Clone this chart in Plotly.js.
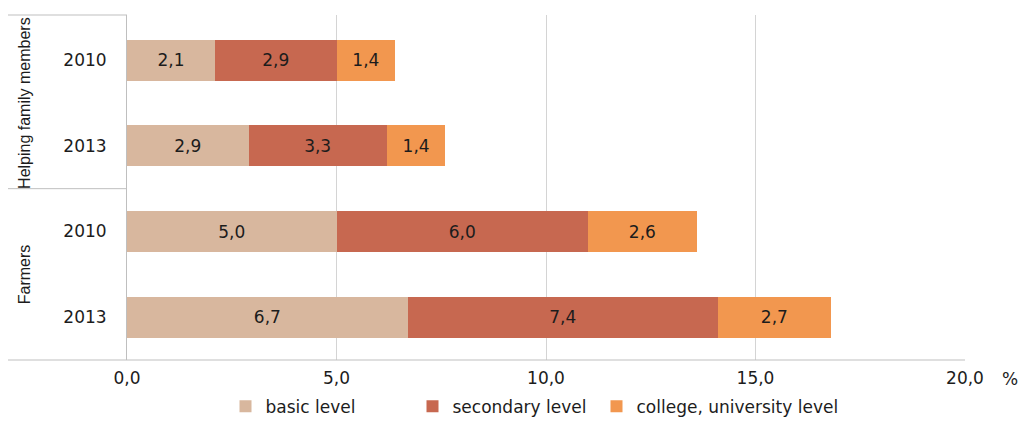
<!DOCTYPE html>
<html>
<head>
<meta charset="utf-8">
<script src="https://cdn.plot.ly/plotly-3.0.1.min.js"></script>
<style>
  html, body { margin: 0; padding: 0; background: #ffffff; }
  #chart { width: 1022px; height: 421px; }
</style>
</head>
<body>
<div id="chart"></div>
<script>
// Category ids (group + year), top to bottom
const categories = [
  'Helping family members 2010',
  'Helping family members 2013',
  'Farmers 2010',
  'Farmers 2013'
];
const yearLabels = ['2010', '2013', '2010', '2013'];
const groupLabels = ['Helping family members', 'Farmers'];

// Share of each education level, %
const basicLevel = [2.1, 2.9, 5.0, 6.7];
const secondaryLevel = [2.9, 3.3, 6.0, 7.4];
const collegeLevel = [1.4, 1.4, 2.6, 2.7];

const seriesNames = ['basic level', 'secondary level', 'college, university level'];
const seriesColors = ['#d8b79e', '#c76850', '#f2974f'];
// legend entry widths in px
const legendWidths = [142, 139, 225];

const xTicks = [0, 5, 10, 15, 20];

const wideFont = 'DejaVu Sans, Liberation Sans, Arial, sans-serif';
const textColor = '#1c1c1c';
const lineColor = '#bfbfbf';

function barTrace(values, i) {
  return {
    type: 'bar',
    orientation: 'h',
    name: seriesNames[i],
    legendwidth: legendWidths[i],
    x: values,
    y: categories,
    marker: { color: seriesColors[i], line: { width: 0 } },
    texttemplate: '%{x:.1f}',
    textposition: 'inside',
    insidetextanchor: 'middle',
    constraintext: 'none',
    textfont: { family: wideFont, size: 17, color: textColor },
    hoverinfo: 'name+x'
  };
}

const data = [
  barTrace(basicLevel, 0),
  barTrace(secondaryLevel, 1),
  barTrace(collegeLevel, 2)
];

const leftEdge = -0.142;

const layout = {
  width: 1022,
  height: 421,
  margin: { l: 127, r: 57, t: 15, b: 61, autoexpand: false },
  paper_bgcolor: '#ffffff',
  plot_bgcolor: '#ffffff',
  separators: ', ',
  barmode: 'stack',
  bargap: 0.525,
  font: { family: wideFont, size: 17, color: textColor },
  xaxis: {
    range: [0, 20],
    tickvals: xTicks,
    tickformat: '.1f',
    showgrid: true,
    gridcolor: '#d4d4d4',
    gridwidth: 1,
    zeroline: false,
    showline: false,
    ticks: '',
    ticklabelstandoff: 6,
    tickfont: { family: wideFont, size: 17, color: textColor },
    fixedrange: true
  },
  yaxis: {
    type: 'category',
    categoryorder: 'array',
    categoryarray: categories,
    autorange: 'reversed',
    tickvals: categories,
    ticktext: yearLabels,
    showgrid: false,
    zeroline: false,
    showline: true,
    linecolor: lineColor,
    linewidth: 1,
    ticks: '',
    ticklabelstandoff: 16,
    tickfont: { family: wideFont, size: 17, color: textColor },
    fixedrange: true
  },
  shapes: [
    // frame lines of the grouped category labels
    { type: 'line', xref: 'paper', yref: 'paper', x0: leftEdge, x1: 0, y0: 1, y1: 1,
      line: { color: lineColor, width: 1 } },
    { type: 'line', xref: 'paper', yref: 'y', x0: leftEdge, x1: 0, y0: 1.5, y1: 1.5,
      line: { color: lineColor, width: 1 } },
    { type: 'line', xref: 'paper', yref: 'paper', x0: leftEdge, x1: 1, y0: 0, y1: 0,
      line: { color: lineColor, width: 1 } }
  ],
  annotations: [
    { text: groupLabels[0], xref: 'paper', yref: 'y', x: -0.123, y: 0.5,
      textangle: -90, showarrow: false, xanchor: 'center', yanchor: 'middle',
      font: { family: 'Liberation Sans, Arial, sans-serif', size: 16, color: textColor } },
    { text: groupLabels[1], xref: 'paper', yref: 'y', x: -0.123, y: 2.5,
      textangle: -90, showarrow: false, xanchor: 'center', yanchor: 'middle',
      font: { family: 'Liberation Sans, Arial, sans-serif', size: 16, color: textColor } },
    { text: '%', xref: 'paper', yref: 'paper', x: 1.054, y: -0.055,
      showarrow: false, xanchor: 'center', yanchor: 'middle',
      font: { family: wideFont, size: 17, color: textColor } }
  ],
  showlegend: true,
  legend: {
    orientation: 'h',
    x: 0.5,
    xanchor: 'center',
    y: -0.135,
    yanchor: 'middle',
    traceorder: 'normal',
    font: { family: wideFont, size: 17, color: textColor },
    bgcolor: 'rgba(0,0,0,0)'
  }
};

Plotly.newPlot('chart', data, layout, { displayModeBar: false, staticPlot: true });
</script>
</body>
</html>
